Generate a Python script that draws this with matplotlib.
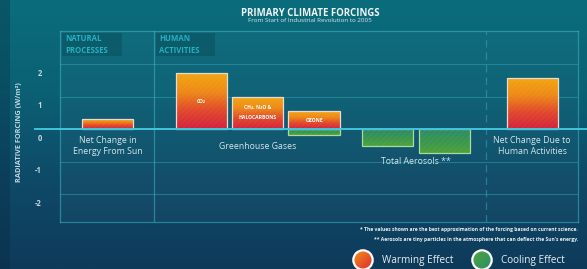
import numpy as np
import matplotlib
matplotlib.use("Agg")
import matplotlib.pyplot as plt
from matplotlib.colors import LinearSegmentedColormap
from matplotlib.patches import Circle, Rectangle
from matplotlib.lines import Line2D
from matplotlib import transforms

plt.rcParams['font.family'] = ['Open Sans', 'DejaVu Sans']
plt.rcParams['hatch.linewidth'] = 0.4

# ---------------- data ----------------
bar_names = ["Sun", "CO\u2082", "CH\u2084, N\u2082O &\nHALOCARBONS", "OZONE",
             "Aerosols A", "Aerosols B", "Net Human"]
bar_labels = ["", "CO\u2082", "CH\u2084, N\u2082O &\nHALOCARBONS", "OZONE", "", "", ""]
warming = [0.31, 1.72, 0.98, 0.55, 0.0, 0.0, 1.57]
cooling = [0.0, 0.0, 0.0, -0.18, -0.52, -0.74, 0.0]
yticks = [-2, -1, 0, 1, 2]
group_labels = ["Net Change in\nEnergy From Sun", "Greenhouse Gases",
                "Total Aerosols **", "Net Change Due to\nHuman Activities"]
group_members = [[0], [1, 2, 3], [4, 5], [6]]
header_labels = ["NATURAL\nPROCESSES", "HUMAN\nACTIVITIES"]
title = "PRIMARY CLIMATE FORCINGS"
subtitle = "From Start of Industrial Revolution to 2005"
footnotes = ["* The values shown are the best approximation of the forcing based on current science.",
             "** Aerosols are tiny particles in the atmosphere that can deflect the Sun's energy."]
legend_labels = ["Warming Effect", "Cooling Effect"]

# ---------------- layout ----------------
positions = [0.84, 2.50, 3.50, 4.50, 5.80, 6.81, 8.36]
bar_width = 0.91
xlim = (0, 9.17)
ylim = (-2.86, 3.02)
separator_x = 1.66
dashed_x = 7.54

W, H = 587, 269
fig = plt.figure(figsize=(W / 100, H / 100), dpi=100)

# background gradient
bg = fig.add_axes([0, 0, 1, 1], zorder=-10)
bg.axis("off")
bg_cmap = LinearSegmentedColormap.from_list("bg", ["#0f3a5a", "#0e4a68", "#0b6174", "#0a6d7b"])
grad = np.linspace(0, 1, 256).reshape(-1, 1)
bg.imshow(grad, aspect="auto", cmap=bg_cmap, origin="lower", extent=[0, 1, 0, 1])
bg.add_patch(Rectangle((0, 0), 10 / W, 1, color="#06253c", alpha=0.3, lw=0))
bg.set_xlim(0, 1)
bg.set_ylim(0, 1)

def fx(px):
    return px / W

def fy(py):
    return 1 - py / H

ax_w = (578 - 60) / W
ax = fig.add_axes([fx(60), fy(222), ax_w, (222 - 31) / H])
ax.set_facecolor((1, 1, 1, 0.025))
for s in ax.spines.values():
    s.set_color("#3fb6c8")
    s.set_alpha(0.55)
    s.set_linewidth(0.9)

warm_cmap = LinearSegmentedColormap.from_list("warm", ["#d4223f", "#e2492c", "#ee8a18", "#f3a612"])
cool_cmap = LinearSegmentedColormap.from_list("cool", ["#4ea23c", "#3a9650", "#2b8a6c"])

def gradient_bar(x, bottom, top, cmap, edge):
    rect = ax.bar(x, top - bottom, bottom=bottom, width=bar_width, color="none",
                  edgecolor=edge, linewidth=0.9, zorder=4)[0]
    g = np.linspace(0, 1, 128).reshape(-1, 1)
    im = ax.imshow(g, cmap=cmap, origin="lower", aspect="auto",
                   extent=[x - bar_width / 2, x + bar_width / 2, bottom, top], zorder=3)
    im.set_clip_path(rect)
    ax.bar(x, top - bottom, bottom=bottom, width=bar_width, color="none",
           edgecolor=(1, 1, 1, 0.08), hatch="//////", linewidth=0, zorder=3.5)

for x, w, c in zip(positions, warming, cooling):
    if w > 0:
        gradient_bar(x, 0, w, warm_cmap, "#e6dcd6")
    if c < 0:
        gradient_bar(x, c, 0, cool_cmap, "#a9dba0")

for x, w, lab in zip(positions, warming, bar_labels):
    if lab:
        ax.text(x, w / 2 + (0.02 if "\n" in lab else 0.0), lab, ha="center", va="center",
                fontsize=3.6, fontweight="bold", color="white", zorder=6, linespacing=2.2)

ax.set_xlim(*xlim)
ax.set_ylim(*ylim)
ax.set_xticks([])
ax.set_yticks(yticks)
ax.set_yticklabels([str(t) for t in yticks])
ax.tick_params(axis="y", length=0, pad=13, labelsize=5.5, labelcolor="#c5d6de")
for lbl in ax.get_yticklabels():
    lbl.set_fontweight("bold")
    lbl.set_transform(lbl.get_transform() + transforms.ScaledTranslation(0, -8 / 100, fig.dpi_scale_trans))
ax.grid(axis="y", color="#35aac0", alpha=0.45, linewidth=0.8)
ax.set_axisbelow(True)

ax.axvline(separator_x, color="#3fb6c8", alpha=0.55, linewidth=0.9, zorder=1)
ax.axvline(dashed_x, color="#3fb6c8", alpha=0.45, linewidth=0.9, linestyle=(0, (6, 4)), zorder=1)

# zero line extending beyond the axes
blend = transforms.blended_transform_factory(fig.transFigure, ax.transData)
fig.add_artist(Line2D([fx(35), 1.0], [0, 0], transform=blend, color="#43c4dc", linewidth=1.4, zorder=5))

ax.set_ylabel("RADIATIVE FORCING (W/m\u00b2)", fontsize=5.3, fontweight="bold", color="#c5d6de")
ax.yaxis.set_label_coords((fx(23) - fx(60)) / ax_w, 0.47)

# group labels
label_y = [-0.52, -0.55, -1.0, -0.52]
for lab, mem, yy in zip(group_labels, group_members, label_y):
    xc = np.mean([positions[i] for i in mem])
    ax.text(xc, yy, lab, ha="center", va="center", fontsize=6.3, color="#d4e6ec",
            linespacing=1.15, zorder=6)

# header boxes
hdr_x = [(62, 122), (156, 215)]
for (x0, x1), lab in zip(hdr_x, header_labels):
    fig.add_artist(Rectangle((fx(x0), fy(56)), fx(x1) - fx(x0), fy(33) - fy(56),
                             transform=fig.transFigure, color=(0, 0.05, 0.1, 0.16), lw=0))
    fig.text(fx(x0 + 3), fy(44.5), lab, ha="left", va="center", fontsize=5.6, fontweight="bold",
             color="#22b2c2", linespacing=1.3)

# titles
fig.text(fx(310), fy(13), title, ha="center", va="center", fontsize=6.9, fontweight="bold", color="#eef4f6")
fig.text(fx(310), fy(20.5), subtitle, ha="center", va="center", fontsize=4.5, color="#d8e6ea")

# footnotes
fig.text(fx(578), fy(230), footnotes[0], ha="right", va="center", fontsize=3.6, color="#e6eef2", fontweight="bold")
fig.text(fx(578), fy(239), footnotes[1], ha="right", va="center", fontsize=3.6, color="#e6eef2", fontweight="bold")

# legend
leg_cmaps = [LinearSegmentedColormap.from_list("lw", ["#d8263a", "#e85a26", "#f2a014"]),
             LinearSegmentedColormap.from_list("lc", ["#2a8a72", "#3c9a50", "#54a83c"])]
leg_cx = [363, 482]
for cx, cm, lab in zip(leg_cx, leg_cmaps, legend_labels):
    r = 11
    la = fig.add_axes([fx(cx - r), fy(260 + r), 2 * r / W, 2 * r / H])
    la.axis("off")
    gx, gy = np.meshgrid(np.linspace(0, 1, 64), np.linspace(0, 1, 64))
    la.imshow((gy + (1 - gx)) / 2, cmap=cm, origin="lower", extent=[0, 1, 0, 1], aspect="auto")
    circ = Circle((0.5, 0.5), 0.44, transform=la.transAxes, facecolor="none",
                  edgecolor="white", linewidth=1.6)
    la.add_patch(circ)
    la.images[0].set_clip_path(circ)
    la.set_xlim(0, 1)
    la.set_ylim(0, 1)
    fig.text(fx(cx + 19), fy(260), lab, ha="left", va="center", fontsize=7.2, color="#e8eef2")

fig.savefig("out.png", dpi=100)
